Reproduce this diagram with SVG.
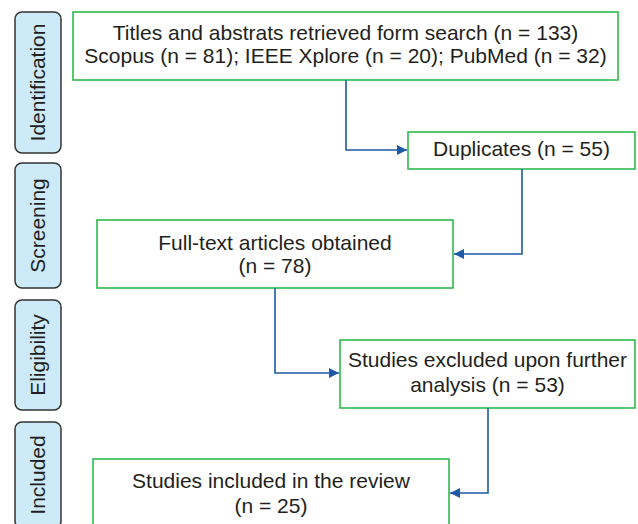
<svg xmlns="http://www.w3.org/2000/svg" width="638" height="524" viewBox="0 0 638 524">
<defs>
<style>
.stage rect{fill:#cdeaf8;stroke:#333;stroke-width:1.5}
.stage text,.node text{font-family:"Liberation Sans",Arial,sans-serif;font-size:21px;fill:#231f20;text-anchor:middle}
.node rect{fill:#fff;stroke:#2dbb4e;stroke-width:1.6}
.conn path{fill:none;stroke:#1f5aa6;stroke-width:1.6}
</style>
<marker id="arr" viewBox="0 0 10 10" refX="10" refY="5" markerWidth="10" markerHeight="10" markerUnits="userSpaceOnUse" orient="auto">
<path d="M0,0 L10,5 L0,10 Z" fill="#1f5aa6"/>
</marker>
</defs>
<rect width="638" height="524" fill="#fff"/>
<g class="stage" id="stage-identification"><rect x="15" y="12" width="46" height="141" rx="7"/><text transform="translate(45,82.5) rotate(-90)">Identification</text></g>
<g class="stage" id="stage-screening"><rect x="15" y="163" width="46" height="125" rx="7"/><text transform="translate(45,225.5) rotate(-90)">Screening</text></g>
<g class="stage" id="stage-eligibility"><rect x="15" y="300" width="46" height="110" rx="7"/><text transform="translate(45,355) rotate(-90)">Eligibility</text></g>
<g class="stage" id="stage-included"><rect x="15" y="422" width="46" height="106" rx="7"/><text transform="translate(45,475) rotate(-90)">Included</text></g>
<g class="node" id="n1"><rect x="73" y="12" width="545" height="68"/><text x="345.5" y="40">Titles and abstrats retrieved form search (n = 133)</text><text x="345.5" y="63">Scopus (n = 81); IEEE Xplore (n = 20); PubMed (n = 32)</text></g>
<g class="node" id="n2"><rect x="408" y="132" width="227" height="37"/><text x="521.5" y="156">Duplicates (n = 55)</text></g>
<g class="node" id="n3"><rect x="97" y="220" width="356" height="68"/><text x="275" y="250">Full-text articles obtained</text><text x="275" y="273">(n = 78)</text></g>
<g class="node" id="n4"><rect x="340" y="340" width="295" height="68"/><text x="487.5" y="367">Studies excluded upon further</text><text x="487.5" y="392">analysis (n = 53)</text></g>
<g class="node" id="n5"><rect x="93" y="459" width="356" height="80"/><text x="271" y="488">Studies included in the review</text><text x="271" y="513">(n = 25)</text></g>
<g class="conn" id="connectors">
<path d="M346,80 V150 H407" marker-end="url(#arr)"/>
<path d="M522,169 V254 H454" marker-end="url(#arr)"/>
<path d="M275,288 V373 H339" marker-end="url(#arr)"/>
<path d="M488,408 V493 H450" marker-end="url(#arr)"/>
</g>
</svg>
